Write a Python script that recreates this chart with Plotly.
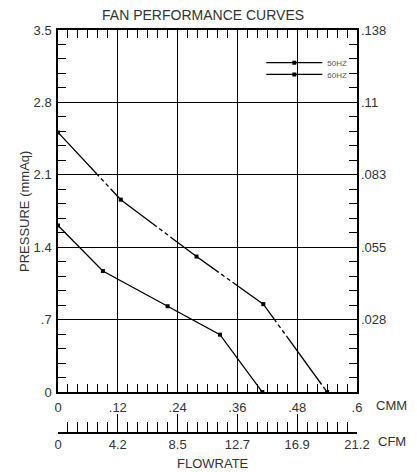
import plotly.graph_objects as go

# ---- data ----
flow_50 = [0, 0.09, 0.22, 0.325, 0.41]
pres_50 = [1.61, 1.17, 0.83, 0.555, 0]
flow_60 = [0, 0.126, 0.278, 0.412, 0.54]
pres_60 = [2.51, 1.86, 1.31, 0.85, 0]

cmm_ticks = [0, 0.12, 0.24, 0.36, 0.48, 0.6]
cmm_labels = ['0', '.12', '.24', '.36', '.48', '.6']
cfm_labels = ['0', '4.2', '8.5', '12.7', '16.9', '21.2']
mmaq_ticks = [0, 0.7, 1.4, 2.1, 2.8, 3.5]
mmaq_labels = ['0', '.7', '1.4', '2.1', '2.8', '3.5']
inaq_ticks = [0.7, 1.4, 2.1, 2.8, 3.5]
inaq_labels = ['.028', '.055', '.083', '.11', '.138']

TXT = '#333333'
FONT = 'Liberation Sans, Arial, sans-serif'

fig = go.Figure()
fig.add_trace(go.Scatter(
    x=flow_50, y=pres_50, name='50HZ', mode='lines+markers', legend='legend',
    line=dict(color='black', width=1.3),
    marker=dict(symbol='square', size=4, color='black'),
))
fig.add_trace(go.Scatter(
    x=flow_60, y=pres_60, name='60HZ', mode='lines+markers', legend='legend2',
    line=dict(color='black', width=1.3, dash='60px,3px,4px,3px,4px,3px'),
    marker=dict(symbol='square', size=4, color='black'),
))
# invisible trace to carry secondary axes
fig.add_trace(go.Scatter(
    x=flow_50, y=pres_50, xaxis='x2', yaxis='y2', mode='markers',
    marker=dict(opacity=0), showlegend=False, hoverinfo='skip',
))

axis_common = dict(
    ticks='inside', ticklen=8, tickwidth=1, tickcolor='black',
    showgrid=True, gridcolor='black', gridwidth=1.2,
    showline=True, linecolor='black', linewidth=1.5, mirror='allticks',
    zeroline=False, tickfont=dict(size=13, color=TXT),
)

legend_common = dict(xanchor='left', yanchor='top', bgcolor='rgba(0,0,0,0)',
                     font=dict(size=8, color='#555555', family=FONT),
                     itemwidth=56, tracegroupgap=0)

fig.update_layout(
    width=409, height=464,
    margin=dict(l=50, r=60, t=22, b=20),
    paper_bgcolor='white', plot_bgcolor='white',
    font=dict(family=FONT, size=13, color=TXT),
    title=dict(text='FAN PERFORMANCE CURVES', x=0.477, xanchor='center',
               y=1 - 7 / 464, yanchor='middle', yref='container',
               font=dict(size=14, color=TXT, family=FONT)),
    xaxis=dict(
        domain=[0, 1], range=[0, 0.6], anchor='y',
        tickmode='array', tickvals=cmm_ticks, ticktext=cmm_labels,
        ticklabelstandoff=3,
        minor=dict(dtick=0.02, tick0=0, ticks='inside', ticklen=8,
                   tickwidth=1, tickcolor='black', showgrid=False),
        **axis_common,
    ),
    yaxis=dict(
        domain=[0.142, 1], range=[0, 3.5], anchor='x',
        tickmode='array', tickvals=mmaq_ticks, ticktext=mmaq_labels,
        ticklabelstandoff=2,
        minor=dict(dtick=0.14, tick0=0, ticks='inside', ticklen=8,
                   tickwidth=1, tickcolor='black', showgrid=False),
        **axis_common,
    ),
    yaxis2=dict(
        overlaying='y', side='right', anchor='x', range=[0, 3.5],
        tickmode='array', tickvals=inaq_ticks, ticktext=inaq_labels,
        ticks='', showgrid=False, showline=False, zeroline=False,
        ticklabelstandoff=3,
        tickfont=dict(size=13, color=TXT),
    ),
    xaxis2=dict(
        overlaying='x', anchor='free', position=0.045, side='bottom',
        range=[0, 0.6], tickmode='array', tickvals=cmm_ticks, ticktext=cfm_labels,
        ticks='inside', ticklen=18, tickwidth=1, tickcolor='black',
        showgrid=False, showline=True, linecolor='black', linewidth=1.5,
        zeroline=False,
        minor=dict(dtick=0.02, tick0=0, ticks='inside', ticklen=10,
                   tickwidth=1, tickcolor='black', showgrid=False),
        tickfont=dict(size=13, color=TXT),
    ),
    legend=dict(x=0.68, y=0.957, **legend_common),
    legend2=dict(x=0.68, y=0.929, **legend_common),
    annotations=[
        dict(text='CMM', xref='paper', yref='paper', x=1.117, y=0.111,
             xanchor='center', yanchor='middle',
             showarrow=False, font=dict(size=13, color=TXT)),
        dict(text='CFM', xref='paper', yref='paper', x=1.117, y=0.024,
             xanchor='center', yanchor='middle',
             showarrow=False, font=dict(size=13, color=TXT)),
        dict(text='FLOWRATE', xref='paper', yref='paper', x=0.52, y=-0.028,
             xanchor='center', yanchor='middle',
             showarrow=False, font=dict(size=13, color=TXT)),
        dict(text='PRESSURE (mmAq)', xref='paper', yref='paper', x=-0.11, y=0.569,
             xanchor='center', yanchor='middle',
             textangle=-90, showarrow=False, font=dict(size=13, color=TXT)),
    ],
)

fig.write_html('out.html')
